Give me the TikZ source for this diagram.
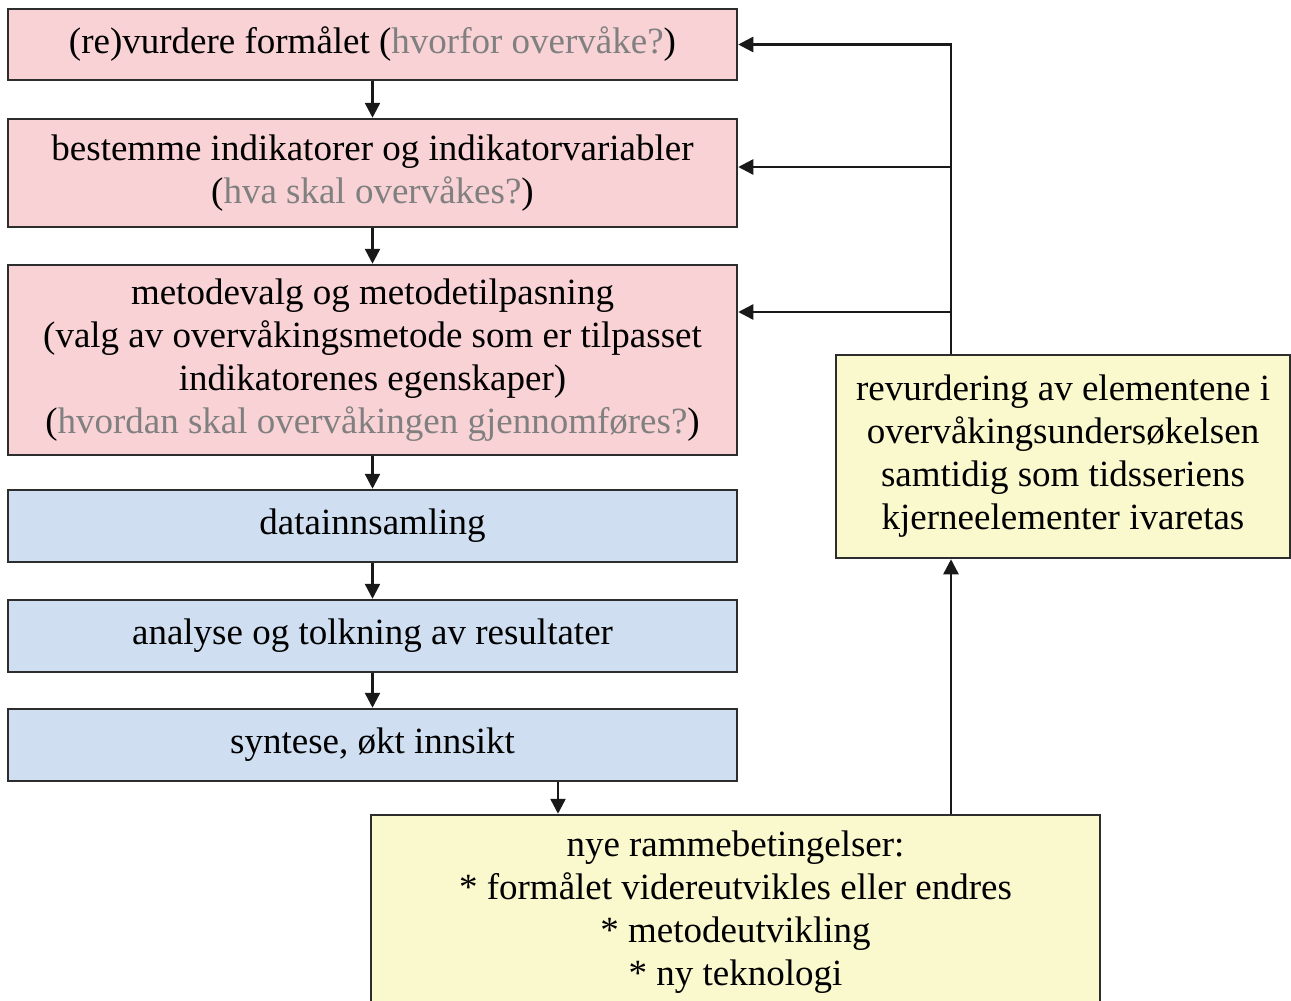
\documentclass[tikz,border=0pt]{standalone}
\usepackage{fontspec}
\setmainfont{Liberation Serif}
\usetikzlibrary{arrows.meta,calc}
\definecolor{pinkf}{RGB}{249,210,213}
\definecolor{bluef}{RGB}{207,223,241}
\definecolor{yellowf}{RGB}{250,248,205}
\definecolor{graytxt}{RGB}{128,128,128}
\definecolor{edge}{RGB}{45,45,45}
\tikzset{
  boxbase/.style={draw=edge, line width=2.5pt, rectangle, align=center, inner sep=0pt,
    font=\fontsize{37}{43}\selectfont, text=black},
  leftbox/.style={boxbase, minimum width=729pt},
  pinkbox/.style={leftbox, fill=pinkf},
  bluebox/.style={leftbox, fill=bluef},
  yellowbox/.style={boxbase, fill=yellowf},
  conn/.style={draw=black!90, line width=2.5pt},
  arr/.style={conn, -{Triangle[length=15pt,width=15pt]}},
}
\newcommand{\gq}[1]{\textcolor{graytxt}{#1}}
\begin{document}
\begin{tikzpicture}[x=1pt,y=-1pt]
\useasboundingbox (0,0) rectangle (1291,1001);
\fill[white] (0,0) rectangle (1291,1001);
\node[pinkbox, minimum height=71pt] (b1) at (372.5,44.5) {(re)vurdere formålet (\gq{hvorfor overvåke?})};
\node[pinkbox, minimum height=108pt] (b2) at (372.5,173) {bestemme indikatorer og indikatorvariabler\\(\gq{hva skal overvåkes?})};
\node[pinkbox, minimum height=190pt] (b3) at (372.5,360) {metodevalg og metodetilpasning\\(valg av overvåkingsmetode som er tilpasset\\indikatorenes egenskaper)\\(\gq{hvordan skal overvåkingen gjennomføres?})};
\node[bluebox, minimum height=72pt] (b4) at (372.5,526) {datainnsamling};
\node[bluebox, minimum height=72pt] (b5) at (372.5,636) {analyse og tolkning av resultater};
\node[bluebox, minimum height=72pt] (b6) at (372.5,745) {syntese, økt innsikt};
\node[yellowbox, minimum width=454pt, minimum height=203pt] (rb) at (1063,456.5) {revurdering av elementene i\\overvåkingsundersøkelsen\\samtidig som tidsseriens\\kjerneelementer ivaretas};
\node[yellowbox, minimum width=729pt, minimum height=195pt] (bot) at (735.5,912.5) {nye rammebetingelser:\\* formålet videreutvikles eller endres\\* metodeutvikling\\* ny teknologi};
\coordinate (fx) at (951,0);
\coordinate (ax) at (558,0);
\draw[arr] (b1) -- (b2);
\draw[arr] (b2) -- (b3);
\draw[arr] (b3) -- (b4);
\draw[arr] (b4) -- (b5);
\draw[arr] (b5) -- (b6);
\draw[arr] (b6.south -| ax) -- (bot.north -| ax);
\draw[arr] (bot.north -| fx) -- (rb.south -| fx);
\draw[arr] (rb.north -| fx) |- (b1.east);
\draw[arr] ([yshift=6pt]b2.east -| fx) -- ([yshift=6pt]b2.east);
\draw[arr] ([yshift=48pt]b3.east -| fx) -- ([yshift=48pt]b3.east);
\end{tikzpicture}
\end{document}
